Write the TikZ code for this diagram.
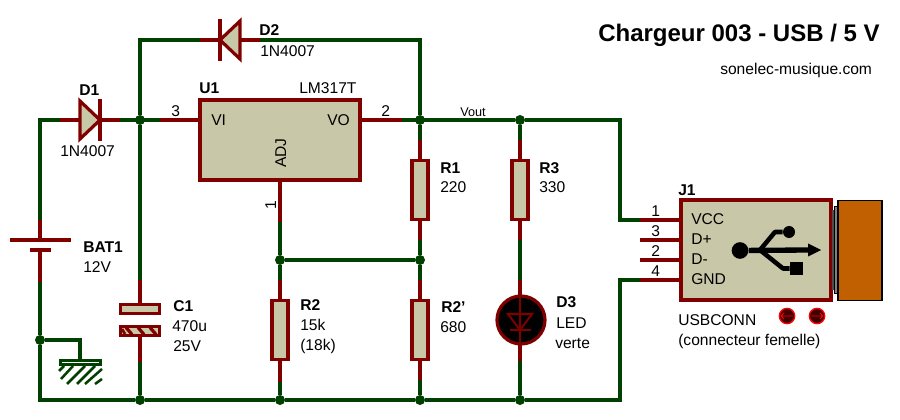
\documentclass[tikz,border=0pt]{standalone}
\usepackage{fontspec}
\setmainfont{Liberation Sans}
\definecolor{wirecol}{RGB}{0,64,0}
\definecolor{leadcol}{RGB}{128,0,0}
\definecolor{bodycol}{RGB}{200,200,168}
\definecolor{plugcol}{RGB}{192,96,0}
\tikzset{
  wire/.style={draw=wirecol,line width=2.4pt},
  lead/.style={draw=leadcol,line width=2.4pt},
  junct/.style={circle,fill=wirecol,inner sep=0pt,minimum size=7.5pt},
  bodybox/.style={rectangle,draw=leadcol,fill=bodycol,line width=2.4pt,inner sep=0pt},
  res/.style={bodybox,minimum width=12pt,minimum height=44.5pt},
  lab/.style={anchor=base west,inner sep=0pt,font=\fontsize{11.7}{13}\selectfont},
  reflab/.style={lab,font=\fontsize{11.7}{13}\selectfont\bfseries},
  small/.style={lab,font=\fontsize{9.5}{11}\selectfont},
  btn/.style={circle,draw=red,fill=leadcol!50!black,line width=1pt,inner sep=0pt,minimum size=11.5pt}
}
\begin{document}
\begin{tikzpicture}[x=0.75pt,y=-0.75pt]

\useasboundingbox (0,0) rectangle (900,420);

% junctions
\node (j1) at (140,120) [junct] {};
\node (j2) at (420,120) [junct] {};
\node (j3) at (520,120) [junct] {};
\node (j4) at (280,260) [junct] {};
\node (j5) at (420,260) [junct] {};
\node (j6) at (40,340) [junct] {};
\node (j7) at (140,400) [junct] {};
\node (j8) at (280,400) [junct] {};
\node (j9) at (420,400) [junct] {};
\node (j10) at (520,400) [junct] {};

% bodies
\node (u1) at (280,140) [bodybox,minimum width=120pt,minimum height=60pt] {};
\node (r1) at (420,190) [res] {};
\node (r3) at (520,190) [res] {};
\node (r2) at (280,330) [res] {};
\node (r2b) at (420,330) [res] {};
\node (c1a) at (140,309) [bodybox,minimum width=29.5pt,minimum height=6.8pt] {};
\node (c1b) at (140,331) [bodybox,minimum width=29.5pt,minimum height=6.8pt] {};
\node (d3) at (521,320) [circle,draw=leadcol,fill=black,line width=2.4pt,inner sep=0pt,minimum size=36pt] {};
\node (j1box) at (756,250) [bodybox,minimum width=112.5pt,minimum height=75pt] {};

% lead ends
\coordinate (d1l) at (60,120);
\coordinate (d1a) at (80,120);
\coordinate (d1k) at (100,120);
\coordinate (d1r) at (120,120);
\coordinate (d2l) at (200,40);
\coordinate (d2k) at (220,40);
\coordinate (d2a) at (240,40);
\coordinate (d2r) at (260,40);
\coordinate (u1a) at (160,120);
\coordinate (u1i) at (200,120);
\coordinate (u1o) at (360,120);
\coordinate (u1b) at (402,120);
\coordinate (u1c) at (280,222);
\coordinate (r1t) at (420,140);
\coordinate (r1b) at (420,240);
\coordinate (r3t) at (520,140);
\coordinate (r3b) at (520,240);
\coordinate (r2t) at (280,280);
\coordinate (r2e) at (280,382);
\coordinate (r2bt) at (420,280);
\coordinate (r2be) at (420,380);
\coordinate (c1t) at (140,280);
\coordinate (c1e) at (140,362);
\coordinate (d3t) at (520,280);
\coordinate (d3e) at (520,361);
\coordinate (bat1) at (40,220);
\coordinate (bat2) at (40,240);
\coordinate (bat3) at (40,250);
\coordinate (bat4) at (40,282);
\coordinate (p1) at (640,220);
\coordinate (p1b) at (680,220);
\coordinate (p3) at (640,240);
\coordinate (p3b) at (680,240);
\coordinate (p2) at (640,260);
\coordinate (p2b) at (680,260);
\coordinate (p4) at (640,280);
\coordinate (p4b) at (680,280);
\coordinate (gnd) at (80,360);

% wires
\draw [wire] (bat1) |- (d1l);
\draw [wire] (d1r) -- (u1a);
\draw [wire] (c1t) -- (j1) |- (d2l);
\draw [wire] (d2r) -| (j2);
\draw [wire] (u1b) -- (j3) -- (620,120) |- (p1);
\draw [wire] (j2) -- (r1t);
\draw [wire] (r1b) -- (j5) -- (r2bt);
\draw [wire] (j3) -- (r3t);
\draw [wire] (r3b) -- (d3t);
\draw [wire] (u1c) -- (j4) -- (r2t);
\draw [wire] (j4) -- (j5);
\draw [wire] (bat4) -- (j6) -- (40,400) -- (j7) -- (j8) -- (j9) -- (j10) -- (620,400) |- (p4);
\draw [wire] (j6) -| (gnd);
\draw [wire] (c1e) -- (j7);
\draw [wire] (r2e) -- (j8);
\draw [wire] (r2be) -- (j9);
\draw [wire] (d3e) -- (j10);

% ground
\node (gndbar) at (80.5,362.5) [rectangle,draw=wirecol,fill=white,line width=2.2pt,inner sep=0pt,minimum width=30pt,minimum height=3pt] {};
\foreach \xa/\ya/\xb/\yb in {59/371/64/366,61/379/73/366,67/384/85/366,77/384/95/366,85/384/102/369,95/384/102/379}
  \draw [draw=wirecol,line width=1.9pt] (\xa,\ya) -- (\xb,\yb);

% leads
\draw [lead] (d1l) -- (d1a);
\draw [lead] (d1k) -- (d1r);
\draw [lead,fill=bodycol,line join=miter] (80,101) -- (d1k) -- (80,139) -- cycle;
\draw [lead] (100,99) -- (100,141);
\draw [lead] (d2l) -- (d2k);
\draw [lead] (d2a) -- (d2r);
\draw [lead,fill=bodycol,line join=miter] (240,21) -- (d2k) -- (240,59) -- cycle;
\draw [lead] (220,19) -- (220,61);
\draw [lead] (u1a) -- (u1i);
\draw [lead] (u1o) -- (u1b);
\draw [lead] (u1.south) -- (u1c);
\draw [lead] (r1t) -- (r1.north);
\draw [lead] (r1.south) -- (r1b);
\draw [lead] (r3t) -- (r3.north);
\draw [lead] (r3.south) -- (r3b);
\draw [lead] (r2t) -- (r2.north);
\draw [lead] (r2.south) -- (r2e);
\draw [lead] (r2bt) -- (r2b.north);
\draw [lead] (r2b.south) -- (r2be);
\draw [lead] (c1t) -- (c1a.north);
\draw [lead] (c1b.south) -- (c1e);
\draw [lead] (d3t) -- (520,296);
\draw [lead] (520,345) -- (d3e);
\draw [lead] (bat1) -- (bat2);
\draw [lead] (bat3) -- (bat4);
\draw [lead] (10,240) -- (71,240);
\draw [lead] (30,250) -- (51,250);
\draw [lead] (p1) -- (p1b);
\draw [lead] (p3) -- (p3b);
\draw [lead] (p2) -- (p2b);
\draw [lead] (p4) -- (p4b);

% capacitor hatch
\foreach \hx in {126,138,150}
  \draw [draw=leadcol,line width=2.4pt] (\hx,327.5) -- (\hx+6,334.5);
\draw [draw=leadcol,line width=2pt] (122,329) -- (125,334);

% led
\draw [draw=leadcol,line width=1.5pt] (520,296) -- (520,345);
\draw [draw=leadcol,line width=1.5pt,line join=miter] (508,314) -- (532,314) -- (520,330) -- cycle;
\draw [draw=leadcol,line width=1.5pt] (510,330) -- (531,330);

% plug
\node (usbg1) at (833.5,250) [rectangle,fill=gray!60!black,inner sep=0pt,minimum width=2pt,minimum height=60pt] {};
\node (usbg2) at (836,250) [rectangle,fill=gray,draw=black,line width=0.6pt,inner sep=0pt,minimum width=3pt,minimum height=65pt] {};
\node (plug) at (860,250.5) [rectangle,fill=plugcol,draw=black,line width=0.8pt,inner sep=0pt,minimum width=33pt,minimum height=75pt] {};

% usb logo
\node (usbc) at (740,250.5) [circle,fill=black,inner sep=0pt,minimum size=12.5pt] {};
\node (usbu) at (789,232) [circle,fill=black,inner sep=0pt,minimum size=9pt] {};
\node (usbd) at (796.5,268.5) [rectangle,fill=black,inner sep=0pt,minimum size=10pt] {};
\coordinate (usbf) at (760,250);
\coordinate (usbt) at (808,250);
\draw [line width=4pt] (usbc) -- (usbt);
\fill (usbt) -- (808,243.5) -- (821,250) -- (808,256.5) -- cycle;
\draw [line width=3.4pt,line join=round] (usbf) -- (775,232) -- (usbu);
\draw [line width=3.4pt,line join=round] (usbf) -- (783,268.5) -- (usbd);

% buttons
\node (btnl) at (787,316) [btn] {};
\node (btnr) at (817,316) [btn] {};
\coordinate (btnla) at (793,316);
\coordinate (btnlb) at (781,316);
\coordinate (btnra) at (811,316);
\coordinate (btnrb) at (823,316);
\draw [draw=red,line width=0.6pt] (btnla) -- (btnlb) ++(3,-3) -- (btnlb) -- ++(3,3);
\draw [draw=red,line width=0.6pt] (btnra) -- (btnrb) ++(-3,-3) -- (btnrb) -- ++(-3,3);

% labels
\node (tit) at (598,42) [lab,font=\fontsize{18}{20}\selectfont\bfseries] {Chargeur 003 - USB / 5 V};
\node (web) at (720,75) [lab] {sonelec-musique.com};
\node (d1n) at (79,96) [reflab] {D1};
\node (d1v) at (60,157) [lab] {1N4007};
\node (d2n) at (259,36) [reflab] {D2};
\node (d2v) at (260,57) [lab] {1N4007};
\node (u1n) at (199,94) [reflab] {U1};
\node (u1v) at (299,94) [lab] {LM317T};
\node (u1vi) at (211,126) [lab] {VI};
\node (u1vo) at (327,126) [lab] {VO};
\node (u1adj) at (286,168) [lab,rotate=90] {ADJ};
\node (pn3) at (171,117) [lab] {3};
\node (pn2) at (381,117) [lab] {2};
\node (pn1) at (276,210) [lab,rotate=90] {1};
\node (vout) at (460,117) [small] {Vout};
\node (batn) at (83,253) [reflab] {BAT1};
\node (batv) at (83,273) [lab] {12V};
\node (c1n) at (173,312) [reflab] {C1};
\node (c1v) at (172,332) [lab] {470u};
\node (c1w) at (173,352) [lab] {25V};
\node (r2n) at (300,311) [reflab] {R2};
\node (r2v) at (300,331) [lab] {15k};
\node (r2w) at (300,351) [lab] {(18k)};
\node (r1n) at (440,174) [reflab] {R1};
\node (r1v) at (440,193) [lab] {220};
\node (r3n) at (539,174) [reflab] {R3};
\node (r3v) at (539,193) [lab] {330};
\node (r2bn) at (441,313) [reflab] {R2'};
\node (r2bv) at (440,333) [lab] {680};
\node (d3n) at (556,308) [reflab] {D3};
\node (d3v) at (556,329) [lab] {LED};
\node (d3w) at (555,349) [lab] {verte};
\node (j1n) at (678,196) [reflab] {J1};
\node (pvcc) at (691,225) [lab] {VCC};
\node (pdp) at (691,245) [lab] {D+};
\node (pdm) at (691,265) [lab] {D-};
\node (pgnd) at (691,285) [lab] {GND};
\node (pd1) at (651,217) [lab] {1};
\node (pd3) at (651,237) [lab] {3};
\node (pd2) at (651,257) [lab] {2};
\node (pd4) at (651,277) [lab] {4};
\node (usbn) at (678,326) [lab] {USBCONN};
\node (usbv) at (678,346) [lab] {(connecteur femelle)};

\end{tikzpicture}
\end{document}
